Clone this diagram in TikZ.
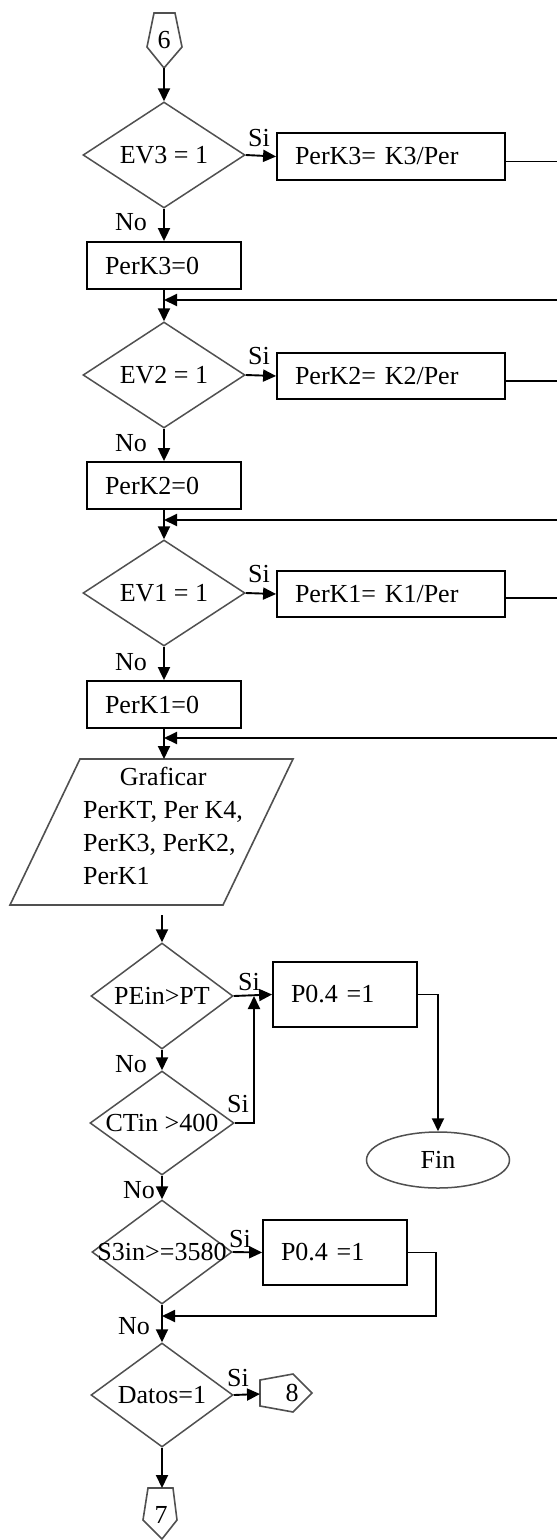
\documentclass[tikz,border=0pt]{standalone}
\usepackage{fontspec}
\setmainfont{Liberation Serif}
\usetikzlibrary{shapes.geometric,arrows.meta}
\definecolor{edge}{RGB}{80,80,80}
\begin{document}
\begin{tikzpicture}[x=1pt,y=-1pt,
  font=\fontsize{26}{33}\selectfont,
  flowarrow/.style={line width=1.9pt,-{Triangle[length=13pt,width=12pt]}},
  proc/.style={draw,line width=1.8pt,rectangle,inner xsep=18pt,inner ysep=0pt,align=left},
  test/.style 2 args={draw=edge,line width=1.5pt,diamond,inner sep=0pt,
    minimum width=#1pt,minimum height=#2pt},
  term/.style={draw=edge,line width=1.5pt,ellipse,inner sep=0pt,
    minimum width=143pt,minimum height=56pt},
  outline/.style={draw=edge,line width=1.6pt,line join=miter},
  lab/.style={inner sep=0pt}]

\useasboundingbox (0,0) rectangle (557,1540);
\fill[white] (0,0) rectangle (557,1540);
\clip (0,0) rectangle (557,1540);

% entry connector 6
\draw[outline] (154,13) -- (175,13) -- (182,47) -- (164,68) -- (147,47) -- cycle;
\node[lab] (c6) at (164,40) {6};
\coordinate (c6tip) at (164,68);

% EV3 test
\node[test={162}{106}] (d3) at (164,155) {\makebox[0pt]{EV3 = 1}};
\node[proc,text width=192pt,minimum height=47pt] (k3) at (391,156.5) {PerK3= K3/Per};
\node[proc,text width=118pt,minimum height=47pt] (z3) at (164,265.5) {PerK3=0};
\coordinate (m3) at (164,300);

% EV2 test
\node[test={162}{106}] (d2) at (164,375) {\makebox[0pt]{EV2 = 1}};
\node[proc,text width=192pt,minimum height=46pt] (k2) at (391,376) {PerK2= K2/Per};
\node[proc,text width=118pt,minimum height=47pt] (z2) at (164,485.5) {PerK2=0};
\coordinate (m2) at (164,520);

% EV1 test
\node[test={162}{106}] (d1) at (164,593) {\makebox[0pt]{EV1 = 1}};
\node[proc,text width=192pt,minimum height=46pt] (k1) at (391,594) {PerK1= K1/Per};
\node[proc,text width=118pt,minimum height=47pt] (z1) at (164,704.5) {PerK1=0};
\coordinate (m1) at (164,738);

% output block
\draw[outline] (80,759) -- (293,759) -- (223,905) -- (10,905) -- cycle;
\coordinate (gtop) at (164,759);
\coordinate (gout) at (162,915);
\node[lab,anchor=north west] (graf) at (83,762)
  {\begin{tabular}{@{}l@{}}\multicolumn{1}{@{}c@{}}{Graficar}\\
   PerKT, Per K4,\\ PerK3, PerK2,\\ PerK1\end{tabular}};

% alarm tests
\node[test={142}{106}] (pe) at (162,996) {\makebox[0pt]{PEin>PT}};
\node[proc,text width=108pt,minimum height=65pt] (pa) at (345,994.5) {P0.4 =1};
\node[term] (fin) at (438,1160) {Fin};
\node[test={144}{104}] (ct) at (162,1123) {\makebox[0pt]{CTin >400}};
\coordinate (j1) at (254,996);
\node[test={140}{104}] (s3) at (162,1252) {\makebox[0pt]{S3in>=3580}};
\node[proc,text width=108pt,minimum height=65pt] (pb) at (335,1252.5) {P0.4 =1};
\coordinate (j2) at (162,1316);
\node[test={142}{104}] (dt) at (162,1395) {\makebox[0pt]{Datos=1}};

% exit connectors
\draw[outline] (260,1380) -- (293,1374) -- (312,1393) -- (293,1412) -- (260,1406) -- cycle;
\node[lab] (c8) at (292,1393) {8};
\coordinate (c8in) at (260,1394);
\draw[outline] (148,1488) -- (173,1488) -- (177,1520) -- (162,1539) -- (143,1520) -- cycle;
\node[lab] (c7) at (161,1515) {7};
\coordinate (c7in) at (162,1488);

% connectors
\draw[flowarrow] (c6tip) -- (d3.north);
\draw[flowarrow] (d3.east) -- (k3.west);
\draw[flowarrow] (d3.south) -- (z3.north);
\draw[flowarrow] (z3.south) -- (d2.north);
\draw[flowarrow] ([yshift=-5pt]k3.east) -- ++(60,0) |- (m3);

\draw[flowarrow] (d2.east) -- (k2.west);
\draw[flowarrow] (d2.south) -- (z2.north);
\draw[flowarrow] (z2.south) -- (d1.north);
\draw[flowarrow] ([yshift=-5pt]k2.east) -- ++(60,0) |- (m2);

\draw[flowarrow] (d1.east) -- (k1.west);
\draw[flowarrow] (d1.south) -- (z1.north);
\draw[flowarrow] (z1.south) -- (gtop);
\draw[flowarrow] ([yshift=-4pt]k1.east) -- ++(60,0) |- (m1);

\draw[flowarrow] (gout) -- (pe.north);
\draw[flowarrow] (pe.east) -- (pa.west);
\draw[flowarrow] (pa.east) -| (fin.north);
\draw[flowarrow] (pe.south) -- (ct.north);
\draw[flowarrow] (ct.east) -| (j1);
\draw[flowarrow] (ct.south) -- (s3.north);
\draw[flowarrow] (s3.east) -- (pb.west);
\draw[flowarrow] (pb.east) -- ++(28,0) |- (j2);
\draw[flowarrow] (s3.south) -- (dt.north);
\draw[flowarrow] (dt.east) -- (c8in);
\draw[flowarrow] (dt.south) -- (c7in);

% branch labels
\node[lab] (si3) at (259,138) {Si};
\node[lab] (no3) at (131,222) {No};
\node[lab] (si2) at (259,356) {Si};
\node[lab] (no2) at (131,443) {No};
\node[lab] (si1) at (259,574) {Si};
\node[lab] (no1) at (131,662) {No};
\node[lab] (sipe) at (249,982) {Si};
\node[lab] (nope) at (131,1064) {No};
\node[lab] (sict) at (238,1104) {Si};
\node[lab] (noct) at (139,1190) {No};
\node[lab] (sis3) at (240,1239) {Si};
\node[lab] (nos3) at (134,1326) {No};
\node[lab] (sidt) at (238,1378) {Si};
\end{tikzpicture}
\end{document}
